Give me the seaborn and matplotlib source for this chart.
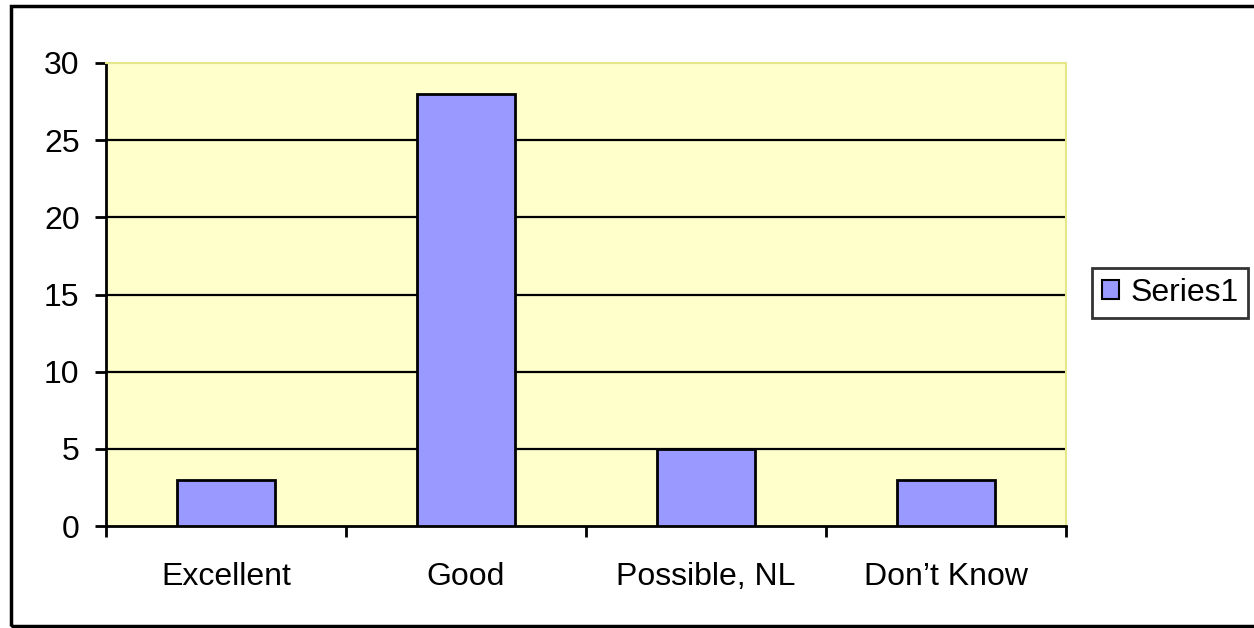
import matplotlib
matplotlib.use("Agg")
import matplotlib.pyplot as plt
from matplotlib.patches import Rectangle
import seaborn as sns
import pandas as pd

categories = ["Excellent", "Good", "Possible, NL", "Don\u2019t Know"]
values = [3, 28, 5, 3]
series_name = "Series1"
y_ticks = [0, 5, 10, 15, 20, 25, 30]

sns.set_theme(style="white")
plt.rcParams["font.family"] = ["Liberation Sans", "DejaVu Sans"]
plt.rcParams["text.color"] = "black"
plt.rcParams["xtick.labelcolor"] = "black"
plt.rcParams["ytick.labelcolor"] = "black"

df = pd.DataFrame({"category": categories, "count": values})

fig = plt.figure(figsize=(12.54, 6.28), dpi=100)
ax = fig.add_axes([106 / 1254, 1 - 526 / 628, 960 / 1254, 463 / 628])
ax.set_facecolor("#FFFFCC")

sns.barplot(data=df, x="category", y="count", color="#9999FF", saturation=1,
            edgecolor="black", linewidth=2, width=0.41, label=series_name,
            ax=ax, zorder=3)

ax.set_ylim(0, 30)
ax.set_xlim(-0.5, len(categories) - 0.5)
ax.set_yticks(y_ticks)
ax.set_xlabel("")
ax.set_ylabel("")

# horizontal gridlines behind the bars
for v in y_ticks[1:-1]:
    ax.axhline(v, color="black", lw=1.6, zorder=1)

for side in ("left", "bottom"):
    ax.spines[side].set_color("black")
    ax.spines[side].set_linewidth(2)
for side in ("top", "right"):
    ax.spines[side].set_color("#E6E68A")
    ax.spines[side].set_linewidth(1.5)

ax.tick_params(axis="y", direction="out", length=8, width=2, color="black",
               pad=11, labelsize=23, left=True, labelcolor="black")
ax.tick_params(axis="x", which="major", length=0, pad=26, labelsize=23,
               labelcolor="black")
ax.set_xticks([i - 0.5 for i in range(len(categories) + 1)], minor=True)
ax.tick_params(axis="x", which="minor", direction="out", length=8, width=2,
               color="black", bottom=True)

leg = ax.legend(loc="center left", bbox_to_anchor=(1092 / 1254, 1 - 293 / 628),
                bbox_transform=fig.transFigure, fontsize=23, frameon=True,
                fancybox=False, handlelength=0.55, handleheight=0.55,
                handletextpad=0.35, borderpad=0.3, borderaxespad=0)
leg.get_frame().set_edgecolor("black")
leg.get_frame().set_linewidth(2)
for t in leg.get_texts():
    t.set_color("black")
for h in leg.legend_handles:
    h.set_linewidth(1.5)

# outer chart frame
fig.patches.append(Rectangle((11 / 1254, 2 / 628), 1.2, 620 / 628,
                             transform=fig.transFigure, fill=False,
                             edgecolor="black", lw=2.5, zorder=0))

fig.savefig("out.png", dpi=100)
